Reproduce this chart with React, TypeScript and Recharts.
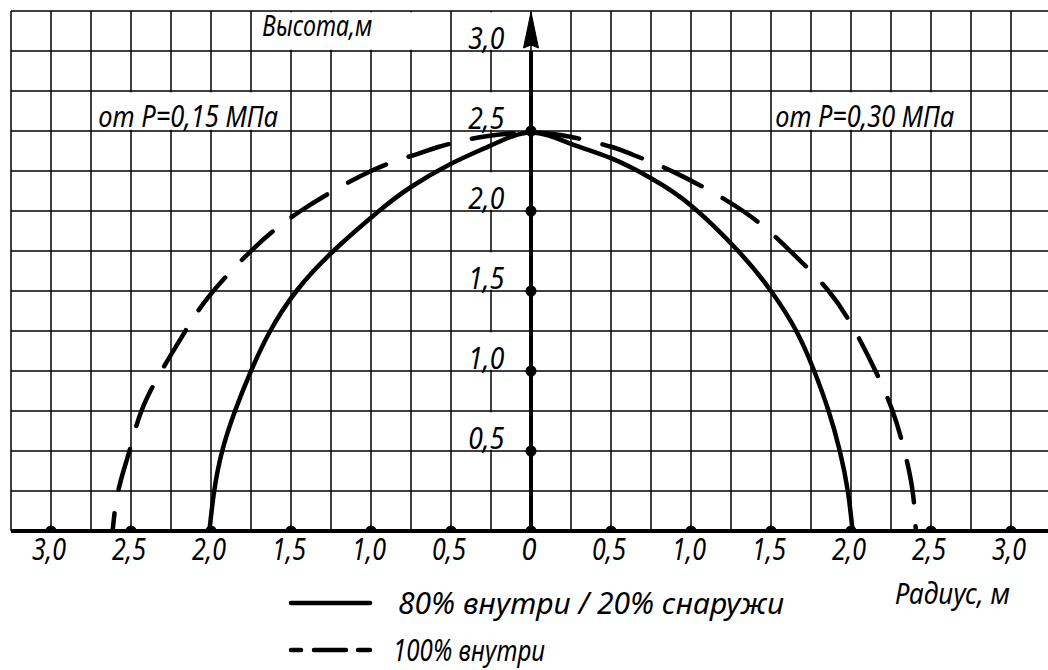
import React from 'react';
import {
  ComposedChart,
  Line,
  Scatter,
  XAxis,
  YAxis,
  CartesianGrid,
  ReferenceLine,
  ReferenceArea,
  ReferenceDot,
  Legend,
} from 'recharts';

// ---------- data ----------
// 80% внутри / 20% снаружи (solid curve)
const solidRadius = [-2.01, -1.98, -1.93, -1.85, -1.75, -1.63, -1.466, -1.235, -0.95, -0.75, -0.5, -0.25, 0, 0.25, 0.5, 0.75, 1.0, 1.295, 1.5, 1.658, 1.77, 1.86, 1.93, 1.98, 2.01];
const solidHeight = [0, 0.25, 0.5, 0.75, 1.0, 1.25, 1.5, 1.75, 2.0, 2.15, 2.295, 2.41, 2.49, 2.42, 2.33, 2.205, 2.035, 1.75, 1.5, 1.25, 1.0, 0.75, 0.5, 0.25, 0];

// 100% внутри (dashed curve)
const dashedRadius = [-2.615, -2.58, -2.51, -2.435, -2.31, -2.16, -2.01, -1.75, -1.44, -1.0, -0.716, -0.58, -0.29, 0, 0.236, 0.506, 0.64, 0.9, 1.325, 1.62, 1.86, 2.025, 2.153, 2.26, 2.334, 2.385, 2.405];
const dashedHeight = [0, 0.25, 0.5, 0.75, 1.0, 1.25, 1.47, 1.75, 2.0, 2.25, 2.354, 2.4, 2.466, 2.49, 2.466, 2.4, 2.35, 2.24, 2.0, 1.75, 1.5, 1.25, 1.0, 0.75, 0.5, 0.25, 0];

const seriesNames = ['80% внутри / 20% снаружи', '100% внутри'];

const xTicks = [-3, -2.5, -2, -1.5, -1, -0.5, 0, 0.5, 1, 1.5, 2, 2.5, 3];
const xTickLabels = ['3,0', '2,5', '2,0', '1,5', '1,0', '0,5', '0', '0,5', '1,0', '1,5', '2,0', '2,5', '3,0'];
const yTicks = [0.5, 1, 1.5, 2, 2.5, 3];
const yTickLabels = ['0,5', '1,0', '1,5', '2,0', '2,5', '3,0'];
const yAxisDots = [0.5, 1, 1.5, 2, 2.5];

const gridX = [-3.25, -3, -2.75, -2.5, -2.25, -2, -1.75, -1.5, -1.25, -1, -0.75, -0.5, -0.25, 0, 0.25, 0.5, 0.75, 1, 1.25, 1.5, 1.75, 2, 2.25, 2.5, 2.75, 3, 3.25];
const gridY = [0, 0.25, 0.5, 0.75, 1, 1.25, 1.5, 1.75, 2, 2.25, 2.5, 2.75, 3, 3.25];

const notePressureLeft = 'от P=0,15 МПа';
const notePressureRight = 'от P=0,30 МПа';
const yTitle = 'Высота,м';
const xTitle = 'Радиус, м';

// ---------- derived tables ----------
const solidData = solidRadius.map((x, i) => ({ x, y: solidHeight[i] }));
const dashedData = dashedRadius.map((x, i) => ({ x, y: dashedHeight[i] }));
const axisDots = [
  ...xTicks.map((x) => ({ x, y: 0 })),
  ...yAxisDots.map((y) => ({ x: 0, y })),
];

const FONT = "'Noto Sans', 'Open Sans', 'DejaVu Sans', sans-serif";
const FS = 30;
const INSET = 0.008;
const textStyle = { fontFamily: FONT, fontSize: FS, fontStyle: 'italic' as const, fontWeight: 400, fill: '#000' };

const tickLen = (s: string) => (s.length === 1 ? 15 : 34);

const XTick = (props: any) => {
  const { x, y, payload } = props;
  const i = xTicks.indexOf(payload.value);
  const s = i >= 0 ? xTickLabels[i] : String(payload.value);
  return (
    <text
      x={x - 2}
      y={y + 21}
      textAnchor="middle"
      textLength={tickLen(s)}
      lengthAdjust="spacingAndGlyphs"
      style={textStyle}
    >
      {s}
    </text>
  );
};

const boxLabel = (text: string, dx: number, dyFromBottom: number, len: number) => (props: any) => {
  const vb = props.viewBox || {};
  return (
    <text
      x={vb.x + dx}
      y={vb.y + vb.height - dyFromBottom}
      textLength={len}
      lengthAdjust="spacingAndGlyphs"
      style={textStyle}
    >
      {text}
    </text>
  );
};

const yTickLabel = (text: string) => (props: any) => {
  const vb = props.viewBox || {};
  return (
    <text
      x={vb.x + 34}
      y={vb.y + vb.height - 1}
      textAnchor="middle"
      textLength={36}
      lengthAdjust="spacingAndGlyphs"
      style={textStyle}
    >
      {text}
    </text>
  );
};

const DotShape = (props: any) => <circle cx={props.cx} cy={props.cy} r={5.5} fill="#000" />;

const ArrowShape = (props: any) => {
  const { cx, cy } = props;
  const d = `M ${cx} ${cy + 1} L ${cx + 7.5} ${cy + 37} L ${cx} ${cy + 34} L ${cx - 7.5} ${cy + 37} Z`;
  return <path d={d} fill="#000" stroke="#000" strokeWidth={1} strokeLinejoin="miter" />;
};

const legendTextX = [398, 393];
const legendTextLen = [386, 152];

const renderLegend = (props: any) => {
  const payload = (props.payload || []).filter((p: any) => p.type !== 'none');
  return (
    <svg width={1048} height={100} style={{ display: 'block' }}>
      {payload.map((entry: any) => {
        const i = Math.max(0, seriesNames.indexOf(entry.value));
        const cy = 33 + i * 47;
        return (
          <g key={entry.value}>
            <line
              x1={291}
              x2={370}
              y1={cy}
              y2={cy}
              stroke="#000"
              strokeWidth={4.5}
              strokeLinecap="round"
              strokeDasharray={i === 1 ? '10 13 32 12 12 100' : undefined}
            />
            <text
              x={legendTextX[i]}
              y={cy + 11}
              textLength={legendTextLen[i]}
              lengthAdjust="spacingAndGlyphs"
              style={textStyle}
            >
              {entry.value}
            </text>
          </g>
        );
      })}
    </svg>
  );
};

export default function App() {
  return (
    <div
      style={{
        position: 'absolute',
        left: 0,
        top: 0,
        width: 1048,
        height: 670,
        overflow: 'hidden',
        background: '#fff',
      }}
    >
      <ComposedChart
        width={1061}
        height={670}
        margin={{ top: 11, right: 10, bottom: 99, left: 11 }}
      >
        <CartesianGrid
          stroke="#000"
          strokeWidth={1.5}
          verticalValues={gridX}
          horizontalValues={gridY}
        />
        <XAxis
          dataKey="x"
          type="number"
          domain={[-3.25, 3.25]}
          ticks={xTicks}
          interval={0}
          axisLine={false}
          tickLine={false}
          height={40}
          allowDataOverflow
          tick={<XTick />}
          label={{
            content: () => (
              <text x={895} y={604} textLength={115} lengthAdjust="spacingAndGlyphs" style={textStyle}>
                {xTitle}
              </text>
            ),
          }}
        />
        <YAxis type="number" domain={[0, 3.25]} hide allowDataOverflow />

        <ReferenceArea
          x1={-2.75 + INSET}
          x2={-1.5 - INSET}
          y1={2.5 + INSET}
          y2={2.75 - INSET}
          fill="#fff"
          fillOpacity={1}
          stroke="none"
          label={boxLabel(notePressureLeft, 6, 3, 180)}
        />
        <ReferenceArea
          x1={1.5 + INSET}
          x2={2.75 - INSET}
          y1={2.5 + INSET}
          y2={2.75 - INSET}
          fill="#fff"
          fillOpacity={1}
          stroke="none"
          label={boxLabel(notePressureRight, 3, 3, 179)}
        />
        <ReferenceArea
          x1={-1.75 + INSET}
          x2={-0.5 - INSET}
          y1={3 + INSET}
          y2={3.25 - INSET}
          fill="#fff"
          fillOpacity={1}
          stroke="none"
          label={boxLabel(yTitle, 10, 14, 110)}
        />
        {yTicks.map((t, i) => (
          <ReferenceArea
            key={`yt${t}`}
            x1={-0.5 + INSET}
            x2={-INSET}
            y1={t + INSET}
            y2={t + 0.25 - INSET}
            fill="#fff"
            fillOpacity={1}
            stroke="none"
            label={yTickLabel(yTickLabels[i])}
          />
        ))}

        <ReferenceLine y={0} stroke="#000" strokeWidth={4} />
        <ReferenceLine
          segment={[
            { x: 0, y: 0 },
            { x: 0, y: 3 },
          ]}
          stroke="#000"
          strokeWidth={4}
        />
        <ReferenceDot x={0} y={3.25} r={1} shape={ArrowShape} />

        <Line
          data={solidData}
          dataKey="y"
          type="natural"
          name={seriesNames[0]}
          stroke="#000"
          strokeWidth={4.5}
          strokeLinecap="round"
          dot={false}
          activeDot={false}
          isAnimationActive={false}
        />
        <Line
          data={dashedData}
          dataKey="y"
          type="natural"
          name={seriesNames[1]}
          stroke="#000"
          strokeWidth={4.5}
          strokeLinecap="round"
          strokeDasharray="42 24"
          strokeDashoffset={24}
          dot={false}
          activeDot={false}
          isAnimationActive={false}
        />
        <Scatter
          data={axisDots}
          dataKey="y"
          fill="#000"
          shape={DotShape}
          legendType="none"
          isAnimationActive={false}
        />
        <Legend
          layout="vertical"
          align="center"
          verticalAlign="middle"
          content={renderLegend}
          wrapperStyle={{ position: 'absolute', left: 0, top: 570, width: 1048, height: 100 }}
        />
      </ComposedChart>
    </div>
  );
}
